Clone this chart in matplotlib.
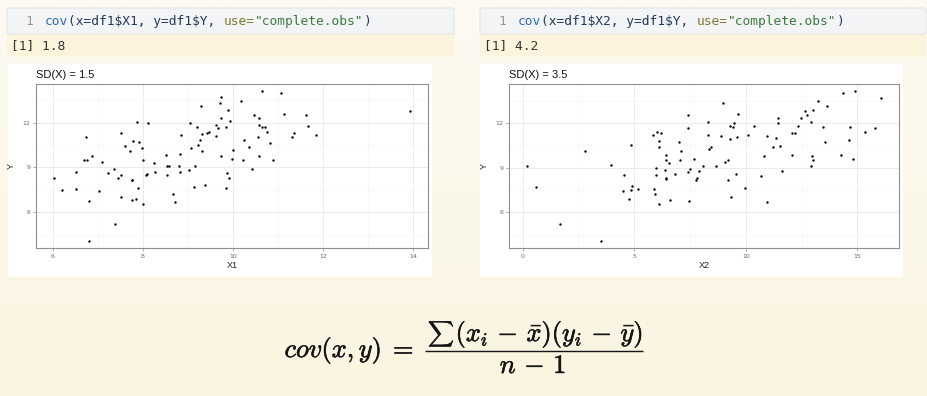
import numpy as np
import matplotlib
matplotlib.use("Agg")
import matplotlib.pyplot as plt
from matplotlib.patches import Rectangle, FancyBboxPatch
import matplotlib.patheffects as pe

# ---------------- data ----------------
x1 = [6.02, 6.2, 6.51, 6.52, 6.69, 6.73, 6.76, 6.79, 6.79, 6.86, 7.02, 7.09, 7.23, 7.36, 7.38,
      7.45, 7.51, 7.52, 7.52, 7.61, 7.7, 7.75, 7.76, 7.75, 7.77, 7.84, 7.87, 7.89, 7.91, 7.97,
      7.99, 7.99, 8.07, 8.09, 8.1, 8.24, 8.26, 8.5, 8.53, 8.54, 8.58, 8.67, 8.7, 8.8, 8.81,
      8.82, 8.84, 9.01, 9.04, 9.07, 9.13, 9.16, 9.19, 9.22, 9.27, 9.28, 9.31, 9.32, 9.37, 9.43,
      9.46, 9.61, 9.63, 9.67, 9.71, 9.72, 9.73, 9.73, 9.84, 9.85, 9.87, 9.89, 9.91, 9.92, 9.98,
      10.0, 10.18, 10.21, 10.25, 10.35, 10.41, 10.46, 10.56, 10.57, 10.57, 10.58, 10.63, 10.64,
      10.7, 10.75, 10.81, 10.88, 11.07, 11.12, 11.3, 11.35, 11.61, 11.66, 11.84, 13.93]
y1 = [8.27, 7.47, 8.71, 7.56, 9.53, 11.02, 9.49, 6.76, 4.11, 9.78, 7.4, 9.4, 8.6, 8.93, 5.22,
      8.31, 11.29, 8.53, 7.02, 10.47, 10.09, 8.18, 8.18, 6.82, 10.8, 6.87, 12.04, 7.64, 10.69, 10.33,
      9.49, 6.53, 8.47, 8.58, 12.0, 9.27, 8.73, 9.82, 9.13, 8.49, 9.09, 7.22, 6.69, 9.13, 9.87,
      8.73, 11.18, 8.84, 12.0, 10.33, 7.71, 9.13, 11.73, 10.53, 10.84, 13.13, 11.22, 10.09, 7.8, 11.33,
      11.38, 11.82, 11.11, 11.64, 13.31, 13.69, 9.8, 12.31, 7.6, 11.69, 8.6, 12.84, 8.33, 12.09, 9.58,
      10.2, 13.47, 9.53, 10.87, 10.38, 8.93, 12.51, 11.02, 9.8, 12.33, 11.82, 14.09, 11.73,
      11.73, 11.36, 10.67, 9.53, 14.02, 12.56, 11.07, 11.29, 12.53, 11.8, 11.2, 12.78]

x2 = [0.18, 0.58, 1.69, 2.81, 3.52, 3.94, 4.48, 4.54, 4.75, 4.84, 4.87, 4.91, 5.16, 5.85, 5.88,
      5.94, 5.96, 5.97, 6.0, 6.09, 6.1, 6.13, 6.22, 6.36, 6.4, 6.4, 6.4, 6.43, 6.57, 6.58,
      6.81, 7.0, 7.07, 7.09, 7.39, 7.4, 7.43, 7.45, 7.48, 7.69, 7.76, 7.81, 7.91, 8.06, 8.3,
      8.31, 8.34, 8.43, 8.66, 8.9, 8.97, 9.06, 9.19, 9.22, 9.28, 9.3, 9.33, 9.43, 9.49, 9.54,
      9.6, 9.64, 9.97, 10.1, 10.36, 10.67, 10.81, 10.96, 10.97, 11.22, 11.36, 11.43, 11.45, 11.51, 11.64,
      12.06, 12.07, 12.22, 12.33, 12.45, 12.64, 12.75, 12.94, 12.94, 12.97, 13.0, 13.03, 13.22, 13.46, 13.57,
      13.63, 14.28, 14.37, 14.63, 14.67, 14.79, 14.88, 15.34, 15.78, 16.07]
y2 = [9.13, 7.71, 5.2, 10.09, 4.11, 9.2, 7.4, 8.49, 6.87, 7.47, 10.53, 7.8, 7.6, 11.18, 7.56,
      7.24, 8.96, 8.53, 11.38, 10.36, 6.53, 10.82, 11.31, 8.84, 9.82, 9.53, 8.29, 8.27, 9.29, 6.82,
      8.6, 10.69, 9.53, 10.09, 11.69, 8.71, 12.53, 6.76, 8.93, 9.56, 8.18, 8.33, 8.76, 9.09, 12.04,
      11.22, 10.22, 10.36, 9.13, 11.09, 13.31, 9.4, 8.18, 9.51, 10.89, 11.82, 7.02, 11.73, 12.0, 8.6,
      11.04, 12.58, 7.64, 11.22, 11.82, 8.47, 9.76, 11.11, 6.71, 10.38, 11.02, 12.0, 12.36, 10.47, 8.76,
      11.33, 9.87, 11.29, 11.82, 12.31, 12.8, 12.53, 12.09, 9.13, 9.78, 9.51, 12.84, 13.44, 11.73, 10.71,
      13.13, 9.84, 14.02, 10.84, 11.73, 9.58, 14.11, 11.36, 11.64, 13.67]

titles = ["SD(X) = 1.5", "SD(X) = 3.5"]
xlabels = ["X1", "X2"]
code_lines = [
    [("cov", "#2f6db3"), ("(x=df1$X1, y=df1$Y, ", "#1e3a5f"), ("use=", "#7d7a2a"),
     ("\"complete.obs\"", "#3c7a3c"), (")", "#1e3a5f")],
    [("cov", "#2f6db3"), ("(x=df1$X2, y=df1$Y, ", "#1e3a5f"), ("use=", "#7d7a2a"),
     ("\"complete.obs\"", "#3c7a3c"), (")", "#1e3a5f")],
]
outputs = ["[1] 1.8", "[1] 4.2"]
x_major = [[6, 8, 10, 12, 14], [0, 5, 10, 15]]
x_minor = [[7, 9, 11, 13], [2.5, 7.5, 12.5]]
y_major = [6, 9, 12]
y_minor = [4.5, 7.5, 10.5, 13.5]

# ---------------- figure ----------------
W, H = 928, 396
DPI = 100
plt.rcParams["mathtext.fontset"] = "cm"
fig = plt.figure(figsize=(W / DPI, H / DPI), dpi=DPI)

bg = fig.add_axes([0, 0, 1, 1])
bg.set_xlim(0, W)
bg.set_ylim(H, 0)
bg.axis("off")
top = np.array([252, 250, 242]) / 255
bot = np.array([250, 244, 224]) / 255
t = np.linspace(0, 1, 200)[:, None, None]
grad = top * (1 - t) + bot * t
grad = np.repeat(grad, 2, axis=1)
bg.imshow(grad, extent=[0, W, H, 0], aspect="auto", zorder=0)

mono_pt = 9.3
char_w = 0.6021 * mono_pt * DPI / 72

boxes = [(7, 454), (480, 926)]
num_x = [29, 502]
code_x = [45, 518]
out_x = [11, 484]
for i in range(2):
    x0, x1e = boxes[i]
    bg.add_patch(Rectangle((x0, 34), x1e - x0, 23, facecolor="#fcf4dc", edgecolor="none", zorder=1))
    bg.add_patch(FancyBboxPatch((x0, 8), x1e - x0, 26, boxstyle="round,pad=0,rounding_size=2",
                                facecolor="#f3f4f5", edgecolor="#e2e4e8", linewidth=0.8, zorder=2))
    bg.text(num_x[i], 21.5, "1", family="DejaVu Sans Mono", fontsize=mono_pt, color="#9a9a9a",
            ha="center", va="center", zorder=3)
    n = 0
    for seg, col in code_lines[i]:
        bg.text(code_x[i] + n * char_w, 21.5, seg, family="DejaVu Sans Mono", fontsize=mono_pt,
                color=col, ha="left", va="center", zorder=3, parse_math=False)
        n += len(seg)
    bg.text(out_x[i], 46, outputs[i], family="DejaVu Sans Mono", fontsize=mono_pt, color="#333333",
            ha="left", va="center", zorder=3, parse_math=False)

for (l, r) in [(8, 432), (480, 903)]:
    bg.add_patch(Rectangle((l, 64), r - l, 213, facecolor="white", edgecolor="none", zorder=1))

panels = [(36, 428), (509, 899)]
ptop, pbot = 84, 248
datasets = [(x1, y1), (x2, y2)]
for i in range(2):
    l, r = panels[i]
    ax = fig.add_axes([l / W, (H - pbot) / H, (r - l) / W, (pbot - ptop) / H])
    ax.set_facecolor("white")
    xs, ys = datasets[i]
    xr = max(xs) - min(xs)
    yr = max(ys) - min(ys)
    ax.set_xlim(min(xs) - 0.05 * xr, max(xs) + 0.05 * xr)
    ax.set_ylim(min(ys) - 0.05 * yr, max(ys) + 0.05 * yr)
    ax.set_xticks(x_major[i])
    ax.set_xticks(x_minor[i], minor=True)
    ax.set_yticks(y_major)
    ax.set_yticks(y_minor, minor=True)
    ax.grid(which="major", color="#ebebeb", linewidth=0.7)
    ax.grid(which="minor", color="#f4f4f4", linewidth=0.45)
    ax.set_axisbelow(True)
    ax.scatter(xs, ys, s=3, color="black", linewidths=0, zorder=3)
    for sp in ax.spines.values():
        sp.set_color("#8f8f8f")
        sp.set_linewidth(0.8)
    ax.tick_params(which="major", length=2, width=0.5, color="#8f8f8f", labelsize=4.5,
                   labelcolor="#6a6a6a", pad=2)
    ax.tick_params(which="minor", length=0)
    ax.set_xlabel(xlabels[i], fontsize=6.5, family="Liberation Sans", color="#222222", labelpad=2)
    ax.set_ylabel("Y", fontsize=6.5, family="Liberation Sans", color="#222222", labelpad=5)
    bg.text(l, 75, titles[i], fontsize=8, family="Liberation Sans", color="#111111",
            ha="left", va="center", zorder=3)

# ---------------- formula ----------------
fs = 19
ink = "#141414"
fx = [pe.withStroke(linewidth=0.4, foreground=ink)]
bg.text(414, 357, r"$cov(x,y)\;=$", fontsize=fs, color=ink, ha="right", va="baseline",
        zorder=3, path_effects=fx)
bg.plot([425, 643], [351, 351], color=ink, linewidth=1.0, solid_capstyle="butt", zorder=3)
bg.text(428, 334, r"$\sum$", fontsize=fs * 0.68, color=ink, ha="left", va="center",
        zorder=3, path_effects=fx)
bg.text(643, 341, r"$(x_i\,-\,\bar{x})(y_i\,-\,\bar{y})$", fontsize=fs, color=ink,
        ha="right", va="baseline", zorder=3, path_effects=fx)
bg.text(533, 373, r"$n\,-\,1$", fontsize=fs, color=ink, ha="center", va="baseline",
        zorder=3, path_effects=fx)

fig.savefig("out.png", dpi=DPI)
